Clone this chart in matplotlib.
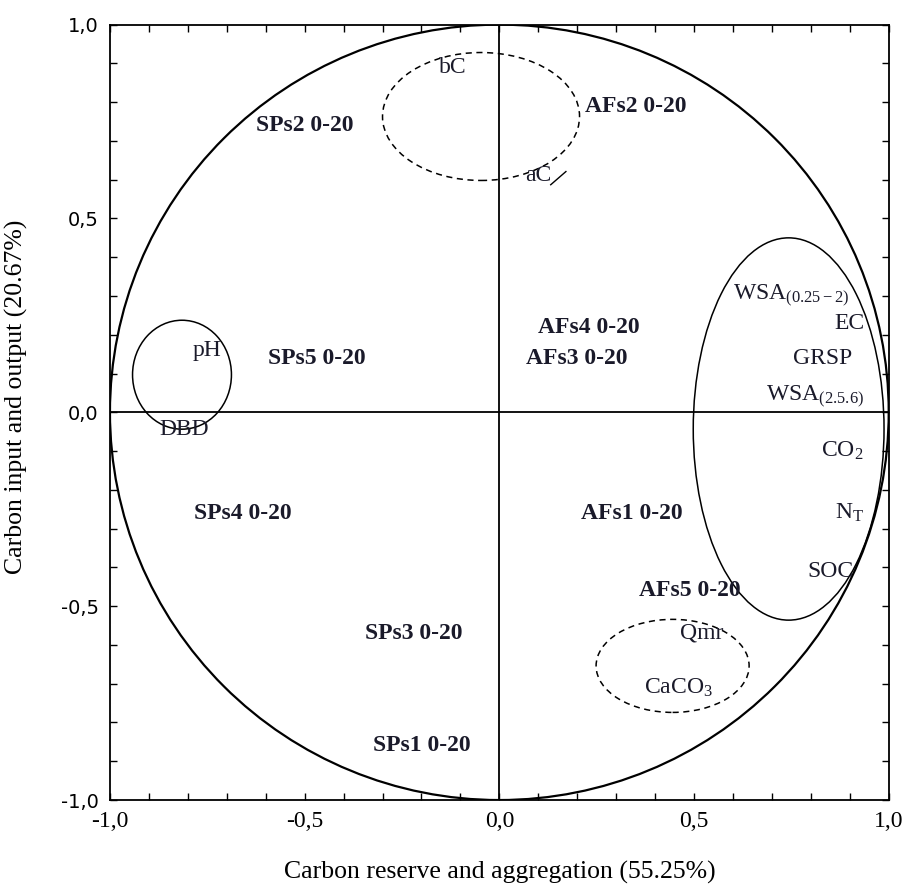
import numpy as np
import matplotlib
matplotlib.use("Agg")
import matplotlib.pyplot as plt
from matplotlib.patches import Ellipse, Circle
from matplotlib.ticker import MultipleLocator, FuncFormatter

plt.rcParams['font.family'] = ['Liberation Serif', 'DejaVu Serif']
plt.rcParams['mathtext.fontset'] = 'custom'
plt.rcParams['mathtext.rm'] = 'Liberation Serif'
plt.rcParams['mathtext.it'] = 'Liberation Serif:italic'

# sample scores (bold labels)
sample_names = ["SPs2 0-20", "AFs2 0-20", "AFs4 0-20", "AFs3 0-20", "SPs5 0-20",
                "SPs4 0-20", "AFs1 0-20", "AFs5 0-20", "SPs3 0-20", "SPs1 0-20"]
sample_x = [-0.50, 0.35, 0.23, 0.20, -0.47, -0.66, 0.34, 0.49, -0.22, -0.20]
sample_y = [0.74, 0.79, 0.22, 0.14, 0.14, -0.26, -0.26, -0.46, -0.57, -0.86]

# variable loadings (regular labels)
var_names = ["bC", "aC", "pH", "DBD",
             r"WSA$_{\mathregular{(0.25-2)}}$", "EC", "GRSP",
             r"WSA$_{\mathregular{(2.5.6)}}$", r"CO$_{\mathregular{2}}$",
             r"N$_{\mathregular{T}}$", "SOC", "Qmr", r"CaCO$_{\mathregular{3}}$"]
var_x = [-0.12, 0.10, -0.75, -0.81, 0.75, 0.90, 0.83, 0.81, 0.88, 0.90, 0.85, 0.52, 0.46]
var_y = [0.89, 0.61, 0.16, -0.045, 0.30, 0.23, 0.14, 0.04, -0.10, -0.26, -0.41, -0.57, -0.71]

# grouping ellipses: center x, center y, width, height, style
ell_cx = [-0.047, 0.743, -0.815, 0.445]
ell_cy = [0.763, -0.043, 0.097, -0.654]
ell_w = [0.506, 0.490, 0.254, 0.393]
ell_h = [0.330, 0.986, 0.281, 0.240]
ell_ls = [(0, (4, 3)), "-", "-", (0, (4, 3))]

fig = plt.figure(figsize=(9.05, 8.85), dpi=100)
ax = fig.add_axes([0.1215, 0.096, 0.8605, 0.8762])

ax.add_patch(Circle((0, 0), 1.0, fill=False, ec="black", lw=1.6))
ax.axhline(0, color="black", lw=1.3)
ax.axvline(0, color="black", lw=1.3)

for cx, cy, w, h, ls in zip(ell_cx, ell_cy, ell_w, ell_h, ell_ls):
    ax.add_patch(Ellipse((cx, cy), w, h, fill=False, ec="black", lw=1.1, ls=ls))

# short leader line next to aC
ax.plot([0.132, 0.171], [0.587, 0.621], color="black", lw=1)

for name, x, y in zip(sample_names, sample_x, sample_y):
    ax.text(x, y, name, ha="center", va="center", fontsize=17, fontweight="bold",
            color="#1a1a2a")
for name, x, y in zip(var_names, var_x, var_y):
    ax.text(x, y, name, ha="center", va="center", fontsize=17, color="#1a1a2a")

ax.set_xlim(-1, 1)
ax.set_ylim(-1, 1)
ax.xaxis.set_major_locator(MultipleLocator(0.5))
ax.yaxis.set_major_locator(MultipleLocator(0.5))
ax.xaxis.set_minor_locator(MultipleLocator(0.1))
ax.yaxis.set_minor_locator(MultipleLocator(0.1))
comma = FuncFormatter(lambda v, p: f"{v:.1f}".replace(".", ",").replace("-0,0", "0,0"))
ax.xaxis.set_major_formatter(comma)
ax.yaxis.set_major_formatter(comma)
ax.tick_params(which="both", direction="in", top=True, right=True, length=5, width=1)
ax.tick_params(axis="x", labelsize=17, pad=8)
ax.tick_params(axis="y", labelsize=14, pad=8)
for lab in ax.get_yticklabels():
    lab.set_family("DejaVu Sans")
for sp in ax.spines.values():
    sp.set_linewidth(1.3)

ax.set_xlabel("Carbon reserve and aggregation (55.25%)", fontsize=18.5)
ax.set_ylabel("Carbon input and output (20.67%)", fontsize=18.5)
ax.xaxis.set_label_coords(0.5, -0.079)
ax.yaxis.set_label_coords(-0.105, 0.52)

fig.savefig("out.png", dpi=100)
